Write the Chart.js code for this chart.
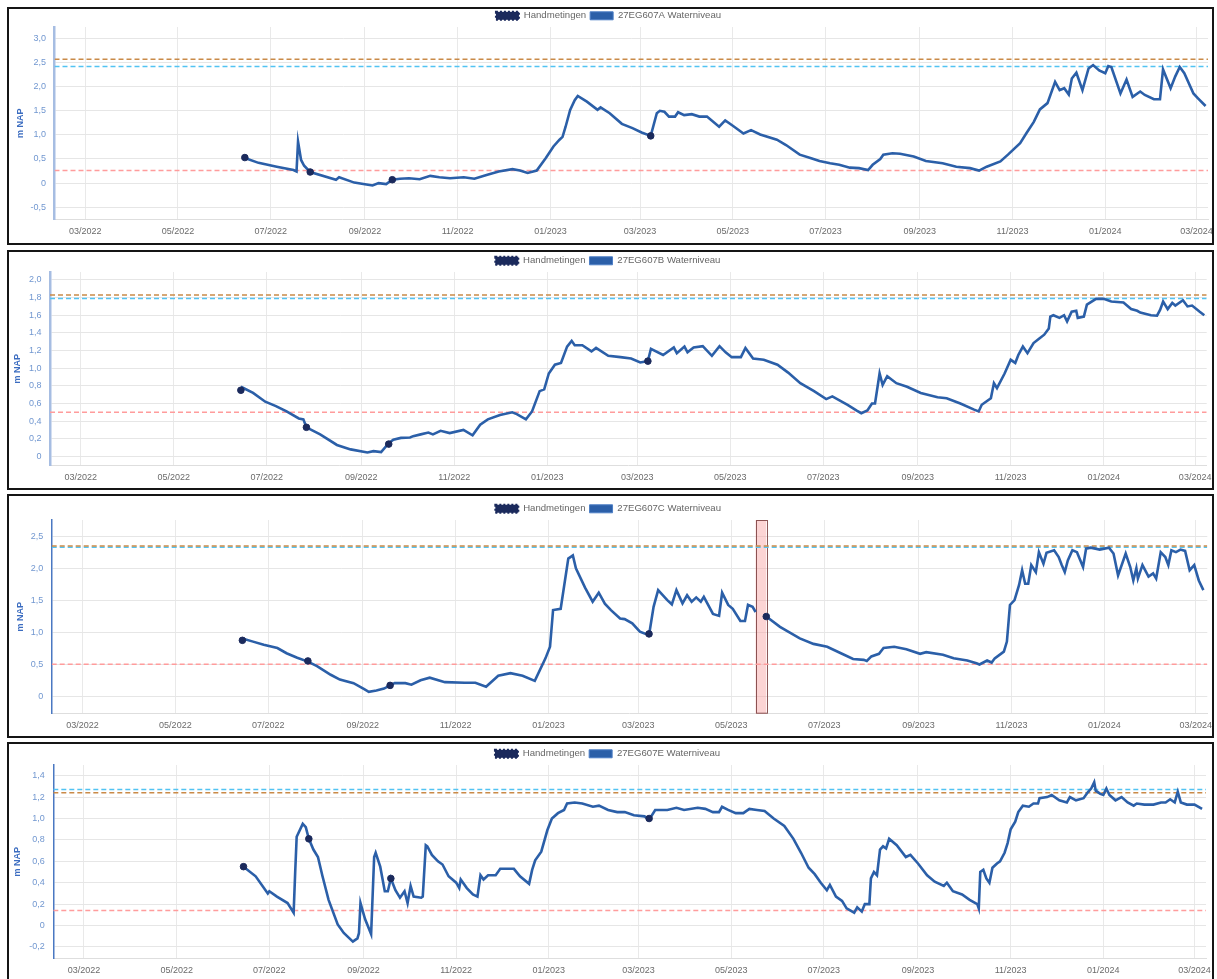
<!DOCTYPE html>
<html>
<head>
<meta charset="utf-8">
<title>Waterniveaus 27EG607</title>
<script src="https://cdn.jsdelivr.net/npm/chart.js@4.4.1/dist/chart.umd.min.js"></script>
<style>
  html, body { margin: 0; padding: 0; background: #fff; }
  body { position: relative; width: 1217px; height: 979px; overflow: hidden; }
  canvas { position: absolute; left: 9px; display: block; }
  .frame { position: absolute; left: 7px; width: 1207px; box-sizing: border-box; border: 2px solid #151515; pointer-events: none; }
</style>
</head>
<body>
<canvas id="c1" width="1205" height="236" style="top:7px"></canvas>
<canvas id="c2" width="1205" height="237" style="top:252px"></canvas>
<canvas id="c3" width="1205" height="237" style="top:500px"></canvas>
<canvas id="c4" width="1205" height="237" style="top:745px"></canvas>
<div class="frame" style="top:7px;height:238px"></div>
<div class="frame" style="top:250px;height:240px"></div>
<div class="frame" style="top:494px;height:244px"></div>
<div class="frame" style="top:742px;height:239px"></div>
<script>
// ---- time axis -------------------------------------------------------------
const xStart = '2022-02-08T19:00';
const xEnd = '2024-03-08T14:00';
const monthTicks = ['2022-03-01', '2022-05-01', '2022-07-01', '2022-09-01', '2022-11-01', '2023-01-01',
  '2023-03-01', '2023-05-01', '2023-07-01', '2023-09-01', '2023-11-01', '2024-01-01', '2024-03-01'];
const monthLabels = ['03/2022', '05/2022', '07/2022', '09/2022', '11/2022', '01/2023',
  '03/2023', '05/2023', '07/2023', '09/2023', '11/2023', '01/2024', '03/2024'];

// ---- hand measurements -----------------------------------------------------
const handDates = ['2022-06-14', '2022-07-27', '2022-09-19', '2023-03-08'];
const handDatesC = ['2022-06-14', '2022-07-27', '2022-09-19', '2023-03-08', '2023-05-24'];
const handA = [0.53, 0.23, 0.07, 0.98];
const handB = [0.75, 0.33, 0.14, 1.08];
const handC = [0.88, 0.56, 0.18, 0.98, 1.25];
const handE = [0.55, 0.81, 0.44, 1.00];

// ---- reference levels (orange, light blue, red) ----------------------------
const refLevelsA = [2.57, 2.42, 0.26];
const refLevelsB = [1.83, 1.79, 0.50];
const refLevelsC = [2.345, 2.325, 0.51];
const refLevelsE = [1.24, 1.27, 0.14];

// ---- 27EG607A --------------------------------------------------------------
const datesA = [
  '2022-06-14', '2022-06-23', '2022-07-05', '2022-07-16', '2022-07-18', '2022-07-19', '2022-07-21', '2022-07-23', '2022-07-27', '2022-08-13',
  '2022-08-15', '2022-08-25', '2022-09-02', '2022-09-06', '2022-09-10', '2022-09-15', '2022-09-19', '2022-09-24', '2022-09-30', '2022-10-07',
  '2022-10-14', '2022-10-20', '2022-10-27', '2022-11-05', '2022-11-12', '2022-11-20', '2022-11-28', '2022-12-07', '2022-12-12', '2022-12-17',
  '2022-12-23', '2022-12-29', '2023-01-03', '2023-01-07', '2023-01-09', '2023-01-11', '2023-01-14', '2023-01-17', '2023-01-19', '2023-01-25',
  '2023-02-01', '2023-02-03', '2023-02-09', '2023-02-17', '2023-02-24', '2023-03-02', '2023-03-08', '2023-03-12', '2023-03-14', '2023-03-17',
  '2023-03-20', '2023-03-24', '2023-03-26', '2023-03-30', '2023-04-04', '2023-04-09', '2023-04-14', '2023-04-22', '2023-04-26', '2023-05-01',
  '2023-05-08', '2023-05-13', '2023-05-19', '2023-05-30', '2023-06-05', '2023-06-14', '2023-06-21', '2023-06-27', '2023-07-04', '2023-07-10',
  '2023-07-17', '2023-07-23', '2023-07-29', '2023-08-01', '2023-08-06', '2023-08-08', '2023-08-14', '2023-08-19', '2023-08-28', '2023-09-05',
  '2023-09-16', '2023-09-25', '2023-10-04', '2023-10-10', '2023-10-15', '2023-10-24', '2023-10-29', '2023-11-06', '2023-11-10', '2023-11-15',
  '2023-11-19', '2023-11-24', '2023-11-29', '2023-12-02', '2023-12-05', '2023-12-08', '2023-12-10', '2023-12-13', '2023-12-17', '2023-12-21',
  '2023-12-24', '2023-12-28', '2024-01-01', '2024-01-03', '2024-01-05', '2024-01-11', '2024-01-15', '2024-01-19', '2024-01-24', '2024-01-27',
  '2024-02-02', '2024-02-06', '2024-02-08', '2024-02-13', '2024-02-16', '2024-02-19', '2024-02-22', '2024-02-28', '2024-03-02', '2024-03-07'];
const levelsA = [
  0.52, 0.42, 0.34, 0.27, 0.24, 0.86, 0.48, 0.36, 0.23, 0.07,
  0.12, 0.01, -0.03, -0.05, 0.00, -0.02, 0.07, 0.09, 0.10, 0.08,
  0.15, 0.12, 0.10, 0.12, 0.09, 0.17, 0.24, 0.29, 0.26, 0.21,
  0.26, 0.52, 0.76, 0.90, 0.96, 1.17, 1.52, 1.72, 1.81, 1.69,
  1.52, 1.57, 1.45, 1.23, 1.14, 1.05, 0.98, 1.45, 1.50, 1.48,
  1.38, 1.38, 1.47, 1.41, 1.43, 1.38, 1.38, 1.17, 1.30, 1.19,
  1.03, 1.10, 1.01, 0.90, 0.79, 0.59, 0.52, 0.46, 0.41, 0.38,
  0.32, 0.31, 0.27, 0.38, 0.50, 0.59, 0.62, 0.61, 0.55, 0.46,
  0.41, 0.34, 0.31, 0.26, 0.34, 0.45, 0.59, 0.83, 1.03, 1.27,
  1.53, 1.66, 2.10, 1.93, 1.97, 1.84, 2.17, 2.29, 1.93, 2.38,
  2.45, 2.34, 2.28, 2.43, 2.41, 1.86, 2.15, 1.79, 1.90, 1.83,
  1.74, 1.74, 2.36, 1.97, 2.21, 2.41, 2.28, 1.86, 1.76, 1.60];

// ---- 27EG607B --------------------------------------------------------------
const datesB = [
  '2022-06-14', '2022-06-22', '2022-06-30', '2022-07-07', '2022-07-14', '2022-07-22', '2022-07-25', '2022-07-27', '2022-08-05', '2022-08-16',
  '2022-08-25', '2022-09-05', '2022-09-09', '2022-09-14', '2022-09-19', '2022-09-22', '2022-09-27', '2022-10-03', '2022-10-05', '2022-10-10',
  '2022-10-15', '2022-10-18', '2022-10-23', '2022-10-29', '2022-11-07', '2022-11-13', '2022-11-18', '2022-11-23', '2022-12-01', '2022-12-09',
  '2022-12-12', '2022-12-18', '2022-12-22', '2022-12-27', '2022-12-30', '2023-01-02', '2023-01-06', '2023-01-10', '2023-01-14', '2023-01-17',
  '2023-01-19', '2023-01-24', '2023-01-30', '2023-02-02', '2023-02-10', '2023-02-18', '2023-02-25', '2023-03-03', '2023-03-08', '2023-03-10',
  '2023-03-18', '2023-03-25', '2023-03-27', '2023-04-01', '2023-04-03', '2023-04-07', '2023-04-13', '2023-04-19', '2023-04-24', '2023-04-28',
  '2023-05-02', '2023-05-08', '2023-05-11', '2023-05-16', '2023-05-23', '2023-06-01', '2023-06-08', '2023-06-16', '2023-06-25', '2023-07-03',
  '2023-07-07', '2023-07-17', '2023-07-23', '2023-07-26', '2023-07-30', '2023-08-02', '2023-08-04', '2023-08-07', '2023-08-09', '2023-08-12',
  '2023-08-18', '2023-08-25', '2023-09-03', '2023-09-14', '2023-09-20', '2023-09-29', '2023-10-08', '2023-10-11', '2023-10-13', '2023-10-19',
  '2023-10-21', '2023-10-23', '2023-10-28', '2023-11-01', '2023-11-04', '2023-11-06', '2023-11-09', '2023-11-12', '2023-11-16', '2023-11-20',
  '2023-11-23', '2023-11-26', '2023-11-27', '2023-11-29', '2023-12-03', '2023-12-06', '2023-12-08', '2023-12-11', '2023-12-14', '2023-12-15',
  '2023-12-19', '2023-12-21', '2023-12-27', '2024-01-01', '2024-01-06', '2024-01-14', '2024-01-19', '2024-01-23', '2024-01-25', '2024-02-01',
  '2024-02-05', '2024-02-07', '2024-02-09', '2024-02-12', '2024-02-15', '2024-02-17', '2024-02-22', '2024-02-25', '2024-02-28', '2024-03-04',
  '2024-03-07'];
const levelsB = [
  0.79, 0.72, 0.62, 0.57, 0.51, 0.43, 0.42, 0.33, 0.25, 0.13,
  0.08, 0.045, 0.06, 0.05, 0.15, 0.19, 0.21, 0.215, 0.23, 0.25,
  0.27, 0.25, 0.29, 0.265, 0.30, 0.24, 0.36, 0.42, 0.47, 0.50,
  0.48, 0.42, 0.51, 0.74, 0.76, 0.94, 1.04, 1.06, 1.245, 1.31,
  1.26, 1.26, 1.19, 1.23, 1.14, 1.125, 1.11, 1.065, 1.08, 1.22,
  1.15, 1.235, 1.17, 1.245, 1.18, 1.235, 1.25, 1.14, 1.25, 1.18,
  1.125, 1.125, 1.23, 1.11, 1.095, 1.04, 0.95, 0.83, 0.74, 0.65,
  0.68, 0.585, 0.52, 0.49, 0.52, 0.60, 0.60, 0.94, 0.81, 0.91,
  0.83, 0.79, 0.72, 0.67, 0.66, 0.60, 0.53, 0.51, 0.585, 0.66,
  0.83, 0.775, 0.94, 1.095, 1.06, 1.15, 1.245, 1.17, 1.285, 1.34,
  1.38, 1.45, 1.585, 1.60, 1.57, 1.60, 1.53, 1.64, 1.65, 1.57,
  1.585, 1.72, 1.786, 1.786, 1.755, 1.745, 1.67, 1.65, 1.63, 1.60,
  1.595, 1.66, 1.755, 1.67, 1.74, 1.71, 1.77, 1.70, 1.71, 1.64,
  1.60];

// ---- 27EG607C (no readings during 17-24 May 2023) --------------------------
const datesC = [
  '2022-06-14', '2022-06-21', '2022-06-28', '2022-07-07', '2022-07-13', '2022-07-20', '2022-07-27', '2022-08-02', '2022-08-11', '2022-08-17',
  '2022-08-26', '2022-09-02', '2022-09-05', '2022-09-10', '2022-09-15', '2022-09-19', '2022-09-22', '2022-09-29', '2022-10-03', '2022-10-09',
  '2022-10-15', '2022-10-25', '2022-11-07', '2022-11-14', '2022-11-21', '2022-11-29', '2022-12-07', '2022-12-15', '2022-12-23', '2022-12-30',
  '2023-01-02', '2023-01-04', '2023-01-09', '2023-01-14', '2023-01-17', '2023-01-19', '2023-01-25', '2023-01-30', '2023-02-03', '2023-02-07',
  '2023-02-11', '2023-02-17', '2023-02-20', '2023-02-25', '2023-03-02', '2023-03-08', '2023-03-11', '2023-03-14', '2023-03-20', '2023-03-23',
  '2023-03-26', '2023-03-30', '2023-04-02', '2023-04-05', '2023-04-08', '2023-04-11', '2023-04-13', '2023-04-19', '2023-04-23', '2023-04-25',
  '2023-04-29', '2023-05-02', '2023-05-07', '2023-05-10', '2023-05-12', '2023-05-15', '2023-05-17', '2023-05-20', '2023-05-24', '2023-06-02',
  '2023-06-15', '2023-06-24', '2023-07-03', '2023-07-12', '2023-07-20', '2023-07-27', '2023-07-29', '2023-08-01', '2023-08-06', '2023-08-09',
  '2023-08-16', '2023-08-24', '2023-09-02', '2023-09-06', '2023-09-17', '2023-09-24', '2023-10-03', '2023-10-09', '2023-10-11', '2023-10-16',
  '2023-10-19', '2023-10-21', '2023-10-27', '2023-10-29', '2023-10-30', '2023-10-31', '2023-11-03', '2023-11-06', '2023-11-08', '2023-11-10',
  '2023-11-12', '2023-11-14', '2023-11-17', '2023-11-19', '2023-11-22', '2023-11-24', '2023-11-29', '2023-12-02', '2023-12-04', '2023-12-06',
  '2023-12-08', '2023-12-11', '2023-12-14', '2023-12-18', '2023-12-20', '2023-12-23', '2023-12-29', '2024-01-04', '2024-01-07', '2024-01-10',
  '2024-01-15', '2024-01-18', '2024-01-20', '2024-01-22', '2024-01-23', '2024-01-26', '2024-01-30', '2024-02-02', '2024-02-04', '2024-02-07',
  '2024-02-10', '2024-02-12', '2024-02-14', '2024-02-17', '2024-02-20', '2024-02-23', '2024-02-26', '2024-02-29', '2024-03-03', '2024-03-06'];
const levelsC = [
  0.91, 0.86, 0.81, 0.76, 0.68, 0.61, 0.55, 0.48, 0.345, 0.27,
  0.215, 0.12, 0.08, 0.10, 0.13, 0.18, 0.215, 0.215, 0.19, 0.26,
  0.30, 0.23, 0.22, 0.22, 0.16, 0.33, 0.37, 0.33, 0.25, 0.60,
  0.78, 1.35, 1.37, 2.15, 2.20, 2.00, 1.70, 1.48, 1.62, 1.45,
  1.35, 1.22, 1.21, 1.145, 1.015, 0.96, 1.40, 1.66, 1.505, 1.44,
  1.66, 1.455, 1.58, 1.48, 1.547, 1.48, 1.556, 1.29, 1.26, 1.62,
  1.43, 1.37, 1.18, 1.18, 1.43, 1.40, 1.32, null, 1.25, 1.09,
  0.91, 0.825, 0.78, 0.68, 0.59, 0.577, 0.56, 0.63, 0.67, 0.76,
  0.78, 0.74, 0.67, 0.696, 0.655, 0.60, 0.566, 0.525, 0.505, 0.566,
  0.535, 0.60, 0.705, 0.86, 1.145, 1.43, 1.505, 1.74, 1.97, 1.76,
  1.76, 2.05, 1.94, 2.25, 2.07, 2.24, 2.28, 2.175, 2.05, 1.94,
  2.12, 2.28, 2.25, 2.02, 2.305, 2.32, 2.29, 2.32, 2.23, 1.89,
  2.23, 2.02, 1.81, 2.00, 1.84, 2.05, 1.87, 1.92, 1.84, 2.25,
  2.175, 2.05, 2.28, 2.25, 2.29, 2.27, 1.97, 2.05, 1.81, 1.66];
const markedPeriodsC = [['2023-05-17', '2023-05-24']];

// ---- 27EG607E --------------------------------------------------------------
const datesE = [
  '2022-06-14', '2022-06-22', '2022-06-30', '2022-07-01', '2022-07-06', '2022-07-13', '2022-07-17', '2022-07-18', '2022-07-19', '2022-07-23',
  '2022-07-25', '2022-07-27', '2022-07-30', '2022-08-02', '2022-08-05', '2022-08-09', '2022-08-15', '2022-08-19', '2022-08-25', '2022-08-28',
  '2022-08-29', '2022-08-30', '2022-09-02', '2022-09-06', '2022-09-08', '2022-09-09', '2022-09-12', '2022-09-15', '2022-09-17', '2022-09-19',
  '2022-09-22', '2022-09-25', '2022-09-28', '2022-09-30', '2022-10-02', '2022-10-04', '2022-10-09', '2022-10-10', '2022-10-12', '2022-10-13',
  '2022-10-16', '2022-10-20', '2022-10-23', '2022-10-27', '2022-11-01', '2022-11-03', '2022-11-04', '2022-11-08', '2022-11-12', '2022-11-15',
  '2022-11-17', '2022-11-19', '2022-11-22', '2022-11-27', '2022-11-30', '2022-12-09', '2022-12-13', '2022-12-19', '2022-12-21', '2022-12-23',
  '2022-12-27', '2022-12-31', '2023-01-03', '2023-01-07', '2023-01-11', '2023-01-13', '2023-01-18', '2023-01-23', '2023-01-30', '2023-02-03',
  '2023-02-09', '2023-02-15', '2023-02-20', '2023-02-26', '2023-03-05', '2023-03-08', '2023-03-12', '2023-03-20', '2023-03-26', '2023-03-31',
  '2023-04-09', '2023-04-14', '2023-04-19', '2023-04-23', '2023-04-25', '2023-04-29', '2023-05-04', '2023-05-09', '2023-05-13', '2023-05-18',
  '2023-05-23', '2023-05-29', '2023-06-05', '2023-06-11', '2023-06-16', '2023-06-21', '2023-06-25', '2023-06-29', '2023-07-03', '2023-07-05',
  '2023-07-09', '2023-07-13', '2023-07-16', '2023-07-21', '2023-07-23', '2023-07-26', '2023-07-28', '2023-07-31', '2023-08-01', '2023-08-03',
  '2023-08-05', '2023-08-07', '2023-08-09', '2023-08-11', '2023-08-13', '2023-08-18', '2023-08-24', '2023-08-27', '2023-09-01', '2023-09-07',
  '2023-09-12', '2023-09-18', '2023-09-20', '2023-09-22', '2023-09-24', '2023-09-30', '2023-10-05', '2023-10-10', '2023-10-11', '2023-10-12',
  '2023-10-14', '2023-10-16', '2023-10-18', '2023-10-20', '2023-10-23', '2023-10-25', '2023-10-28', '2023-10-30', '2023-11-01', '2023-11-04',
  '2023-11-06', '2023-11-09', '2023-11-13', '2023-11-16', '2023-11-19', '2023-11-20', '2023-11-25', '2023-11-28', '2023-12-03', '2023-12-08',
  '2023-12-10', '2023-12-14', '2023-12-19', '2023-12-22', '2023-12-24', '2023-12-26', '2023-12-27', '2023-12-30', '2024-01-01', '2024-01-03',
  '2024-01-05', '2024-01-09', '2024-01-13', '2024-01-17', '2024-01-21', '2024-01-23', '2024-01-28', '2024-02-03', '2024-02-08', '2024-02-11',
  '2024-02-14', '2024-02-17', '2024-02-19', '2024-02-21', '2024-02-25', '2024-03-01', '2024-03-06'];
const levelsE = [
  0.55, 0.46, 0.30, 0.32, 0.27, 0.21, 0.12, 0.49, 0.83, 0.95,
  0.92, 0.81, 0.71, 0.64, 0.46, 0.24, 0.01, -0.07, -0.15, -0.12,
  -0.07, 0.21, 0.06, -0.08, 0.64, 0.68, 0.55, 0.32, 0.32, 0.44,
  0.33, 0.26, 0.32, 0.21, 0.37, 0.27, 0.26, 0.27, 0.75, 0.74,
  0.66, 0.60, 0.57, 0.46, 0.40, 0.35, 0.43, 0.35, 0.29, 0.27,
  0.47, 0.43, 0.47, 0.47, 0.53, 0.53, 0.46, 0.39, 0.52, 0.61,
  0.69, 0.89, 1.00, 1.05, 1.08, 1.14, 1.15, 1.14, 1.11, 1.12,
  1.08, 1.06, 1.06, 1.03, 1.02, 0.99, 1.08, 1.08, 1.10, 1.08,
  1.10, 1.09, 1.06, 1.06, 1.11, 1.08, 1.05, 1.05, 1.09, 1.08,
  1.07, 1.00, 0.93, 0.81, 0.68, 0.54, 0.48, 0.40, 0.33, 0.38,
  0.27, 0.23, 0.16, 0.12, 0.17, 0.13, 0.20, 0.20, 0.44, 0.50,
  0.47, 0.71, 0.74, 0.72, 0.81, 0.75, 0.64, 0.66, 0.58, 0.47,
  0.41, 0.37, 0.40, 0.36, 0.32, 0.29, 0.24, 0.20, 0.16, 0.50,
  0.52, 0.44, 0.40, 0.54, 0.58, 0.60, 0.68, 0.77, 0.90, 0.97,
  1.06, 1.12, 1.11, 1.14, 1.14, 1.19, 1.20, 1.22, 1.17, 1.15,
  1.20, 1.17, 1.19, 1.25, 1.28, 1.34, 1.26, 1.23, 1.22, 1.28,
  1.22, 1.17, 1.20, 1.15, 1.12, 1.14, 1.13, 1.13, 1.15, 1.15,
  1.18, 1.15, 1.25, 1.15, 1.13, 1.13, 1.09];

// ---- value axes ------------------------------------------------------------
const yTicksA = [-0.5, 0, 0.5, 1.0, 1.5, 2.0, 2.5, 3.0];
const yTicksB = [0, 0.2, 0.4, 0.6, 0.8, 1.0, 1.2, 1.4, 1.6, 1.8, 2.0];
const yTicksC = [0, 0.5, 1.0, 1.5, 2.0, 2.5];
const yTicksE = [-0.2, 0, 0.2, 0.4, 0.6, 0.8, 1.0, 1.2, 1.4];
const yRangeA = [-0.76, 3.24];
const yRangeB = [-0.105, 2.09];
const yRangeC = [-0.26, 2.75];
const yRangeE = [-0.31, 1.50];

// ---- drawing ---------------------------------------------------------------
const FONT = 'Arial, "Liberation Sans", Helvetica, sans-serif';
Chart.defaults.font.family = FONT;

const toDay = s => Date.parse(s.length === 10 ? s + 'T00:00:00Z' : s + ':00Z') / 864e5;
const fmtLevel = v => (v === 0 ? '0' : v.toFixed(1).replace('.', ','));

const refColors = ['#c98a48', '#52c3f2', '#ff9c9c'];
const refNames = ['Bovengrens', 'Streefpeil', 'Ondergrens'];

// shaded period (drawn behind the series)
const periodPlugin = {
  id: 'period',
  beforeDatasetsDraw(chart, args, opts) {
    const ranges = (opts && opts.ranges) || [];
    const {ctx, chartArea, scales: {x}} = chart;
    ranges.forEach(([a, b]) => {
      const x0 = x.getPixelForValue(toDay(a));
      const x1 = x.getPixelForValue(toDay(b));
      ctx.save();
      ctx.fillStyle = 'rgba(248, 160, 160, 0.45)';
      ctx.fillRect(x0, chartArea.top, x1 - x0, chartArea.bottom - chartArea.top);
      ctx.strokeStyle = 'rgba(120, 60, 60, 0.85)';
      ctx.lineWidth = 1;
      ctx.strokeRect(Math.round(x0) + 0.5, chartArea.top + 0.5, Math.round(x1 - x0), chartArea.bottom - chartArea.top - 1);
      ctx.restore();
    });
  }
};

function buildChart(cfg) {
  const xMin = toDay(xStart);
  const xMax = toDay(xEnd);
  const series = cfg.dates.map((d, i) => ({x: toDay(d), y: cfg.levels[i]}));
  const hand = cfg.handDates.map((d, i) => ({x: toDay(d), y: cfg.hand[i]}));
  const refs = cfg.refLevels.map((lv, i) => ({
    label: refNames[i],
    data: [{x: xMin, y: lv}, {x: xMax, y: lv}],
    borderColor: refColors[i],
    backgroundColor: refColors[i],
    borderWidth: 1.5,
    borderDash: [5, 3],
    pointRadius: 0,
    order: 3 + i
  }));

  new Chart(document.getElementById(cfg.canvas), {
    type: 'line',
    data: {
      datasets: [
        {
          label: 'Handmetingen',
          data: hand,
          showLine: false,
          pointRadius: 3.3,
          pointBackgroundColor: '#1b2a5c',
          pointBorderColor: '#1b2a5c',
          borderColor: '#1b2a5c',
          backgroundColor: '#1b2a5c',
          order: 0
        },
        {
          label: cfg.name,
          data: series,
          borderColor: '#2b5fa8',
          backgroundColor: '#2b5fa8',
          borderWidth: 2.6,
          pointRadius: 0,
          spanGaps: false,
          tension: 0,
          order: 1
        },
        ...refs
      ]
    },
    options: {
      responsive: false,
      animation: false,
      events: [],
      layout: {padding: {left: 0, right: cfg.rightPad, top: 0, bottom: 0.5}},
      plugins: {
        tooltip: {enabled: false},
        period: {ranges: cfg.periods || []},
        legend: {
          display: true,
          position: 'top',
          maxHeight: 20,
          labels: {
            boxWidth: 23,
            boxHeight: 8,
            padding: 4,
            color: '#666',
            font: {size: 9.6, family: FONT},
            filter: item => item.datasetIndex < 2,
            generateLabels(chart) {
              const items = Chart.defaults.plugins.legend.labels.generateLabels(chart);
              items.forEach(it => {
                if (it.datasetIndex === 0) {
                  it.fillStyle = '#1b2a5c';
                  it.strokeStyle = '#1b2a5c';
                  it.lineWidth = 2;
                  it.lineDash = [2, 2];
                } else if (it.datasetIndex === 1) {
                  it.fillStyle = '#2b5fa8';
                  it.strokeStyle = '#4d7fc6';
                  it.lineWidth = 1;
                  it.lineDash = [];
                }
              });
              return items;
            }
          }
        }
      },
      scales: {
        x: {
          type: 'linear',
          min: xMin,
          max: xMax,
          afterBuildTicks: axis => { axis.ticks = monthTicks.map(m => ({value: toDay(m)})); },
          afterFit: axis => { axis.paddingLeft = 0; axis.paddingRight = 0; },
          ticks: {
            callback: (v, i) => monthLabels[i],
            color: '#6b6b6b',
            font: {size: 9, family: FONT},
            padding: 6,
            maxRotation: 0,
            autoSkip: false
          },
          grid: {color: '#e9e9e9', drawTicks: false},
          border: {color: '#dedede'}
        },
        y: {
          type: 'linear',
          min: cfg.yRange[0],
          max: cfg.yRange[1],
          afterBuildTicks: axis => { axis.ticks = cfg.yTicks.map(v => ({value: v})); },
          afterFit: axis => { axis.width = cfg.axisLeft; axis.paddingTop = 0; axis.paddingBottom = 0; },
          ticks: {
            callback: v => fmtLevel(v),
            color: '#7197d0',
            font: {size: 9, family: FONT},
            padding: 8.5
          },
          grid: {color: '#e6e6e6', drawTicks: false},
          border: {color: cfg.axisColor, width: cfg.axisWidth},
          title: {
            display: true,
            text: 'm NAP',
            color: '#3b6cc0',
            font: {size: 9, weight: 'bold', family: FONT},
            padding: {top: cfg.titleGap, bottom: 0}
          }
        }
      }
    },
    plugins: [periodPlugin]
  });
}

buildChart({canvas: 'c1', name: '27EG607A Waterniveau', dates: datesA, levels: levelsA,
  handDates: handDates, hand: handA, refLevels: refLevelsA, yTicks: yTicksA, yRange: yRangeA,
  axisColor: '#a6bde2', axisWidth: 2.5, axisLeft: 45.5, titleGap: 6.6, rightPad: 6});
buildChart({canvas: 'c2', name: '27EG607B Waterniveau', dates: datesB, levels: levelsB,
  handDates: handDates, hand: handB, refLevels: refLevelsB, yTicks: yTicksB, yRange: yRangeB,
  axisColor: '#a6bde2', axisWidth: 2.5, axisLeft: 41, titleGap: 3.6, rightPad: 7.3});
buildChart({canvas: 'c3', name: '27EG607C Waterniveau', dates: datesC, levels: levelsC,
  handDates: handDatesC, hand: handC, refLevels: refLevelsC, yTicks: yTicksC, yRange: yRangeC,
  axisColor: '#4a78c2', axisWidth: 1.5, axisLeft: 42.7, titleGap: 5.9, rightPad: 6.7, periods: markedPeriodsC});
buildChart({canvas: 'c4', name: '27EG607E Waterniveau', dates: datesE, levels: levelsE,
  handDates: handDates, hand: handE, refLevels: refLevelsE, yTicks: yTicksE, yRange: yRangeE,
  axisColor: '#4a78c2', axisWidth: 1.5, axisLeft: 44.3, titleGap: 3.3, rightPad: 8});
</script>
</body>
</html>
